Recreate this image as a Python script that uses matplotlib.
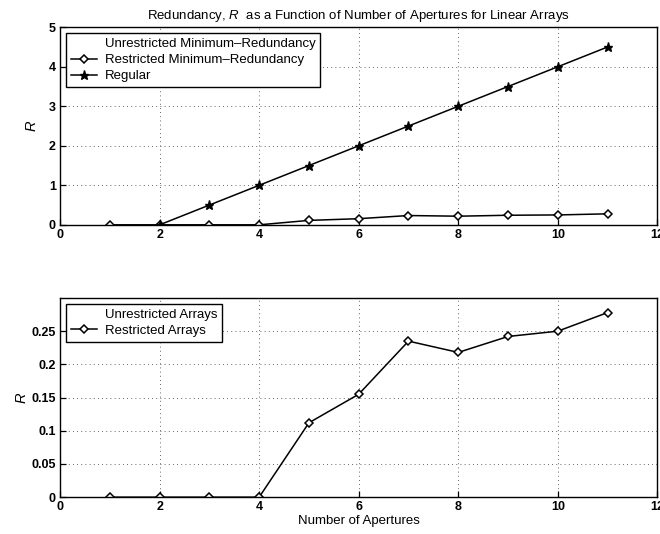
import matplotlib
matplotlib.use("Agg")
from matplotlib import pyplot as plt
from matplotlib.lines import Line2D

plt.rcParams["font.family"] = ["Liberation Sans", "DejaVu Sans"]
plt.rcParams["font.size"] = 9.5
plt.rcParams["mathtext.fontset"] = "custom"
plt.rcParams["mathtext.it"] = "Liberation Sans:italic"

apertures = [1, 2, 3, 4, 5, 6, 7, 8, 9, 10, 11]
restricted = [0, 0, 0, 0, 0.112, 0.155, 0.235, 0.218, 0.242, 0.250, 0.278]
regular_n = [2, 3, 4, 5, 6, 7, 8, 9, 10, 11]
regular = [0, 0.5, 1.0, 1.5, 2.0, 2.5, 3.0, 3.5, 4.0, 4.5]

x_ticks = [0, 2, 4, 6, 8, 10, 12]
top_yticks = [0, 1, 2, 3, 4, 5]
bottom_yticks = [0, 0.05, 0.1, 0.15, 0.2, 0.25]
bottom_ylabels = ["0", "0.05", "0.1", "0.15", "0.2", "0.25"]


def style_axes(ax):
    ax.set_xlim(0, 12)
    ax.set_xticks(x_ticks)
    ax.grid(True, linestyle=(0, (1, 4)), color="#333333", linewidth=0.6)
    ax.tick_params(direction="in", length=4, width=0.9, pad=3, labelsize=9)
    for lbl in ax.get_xticklabels() + ax.get_yticklabels():
        lbl.set_fontweight("bold")
    for s in ax.spines.values():
        s.set_linewidth(1.0)


def add_legend(ax, handles, labels):
    leg = ax.legend(handles, labels, loc="upper left", fancybox=False,
                    edgecolor="black", framealpha=1, handlelength=2.0,
                    handletextpad=0.6, labelspacing=0.3, borderpad=0.35,
                    borderaxespad=0.45, fontsize=9.5)
    leg.get_frame().set_linewidth(1.0)


fig = plt.figure(figsize=(6.6, 5.34), dpi=100)

h_unres = Line2D([], [], color="none")
h_res = Line2D([], [], color="black", marker="D", markersize=4.5,
               markerfacecolor="white", markeredgewidth=1.1, linewidth=1.1)
h_reg = Line2D([], [], color="black", marker="*", markersize=6.5, linewidth=1.1)

ax1 = fig.add_axes([0.091, 0.579, 0.905, 0.370])
ax1.plot(apertures, restricted, "k-", marker="D", markersize=4.5,
         markerfacecolor="white", markeredgecolor="black",
         markeredgewidth=1.1, linewidth=1.1)
ax1.plot(regular_n, regular, "k-", marker="*", markersize=6.5, linewidth=1.1)
ax1.set_ylim(0, 5)
ax1.set_yticks(top_yticks)
style_axes(ax1)
ax1.set_ylabel("$R$", fontsize=10.5, labelpad=7)
ax1.set_title("Redundancy, $R$  as a Function of Number of Apertures for Linear Arrays",
              fontsize=9.5, pad=6)
add_legend(ax1, [h_unres, h_res, h_reg],
           ["Unrestricted Minimum\u2013Redundancy",
            "Restricted Minimum\u2013Redundancy", "Regular"])

ax2 = fig.add_axes([0.091, 0.069, 0.905, 0.373])
ax2.plot(apertures, restricted, "k-", marker="D", markersize=4.5,
         markerfacecolor="white", markeredgecolor="black",
         markeredgewidth=1.1, linewidth=1.1)
ax2.set_ylim(0, 0.3)
ax2.set_yticks(bottom_yticks)
ax2.set_yticklabels(bottom_ylabels)
style_axes(ax2)
ax2.set_ylabel("$R$", fontsize=10.5, labelpad=2)
ax2.set_xlabel("Number of Apertures", fontsize=9.5, labelpad=1)
add_legend(ax2, [h_unres, h_res], ["Unrestricted Arrays", "Restricted Arrays"])

fig.savefig("out.png", dpi=100)
